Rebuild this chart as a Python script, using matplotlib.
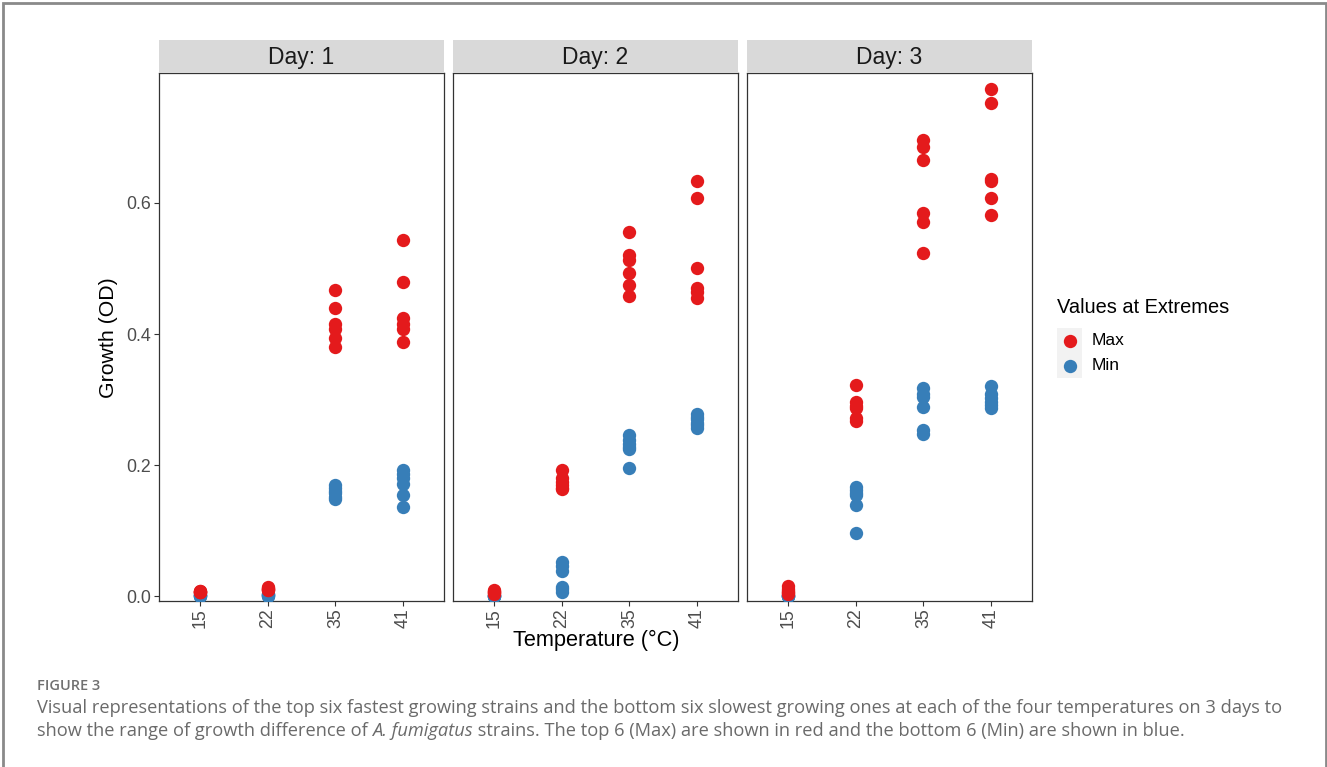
import matplotlib.pyplot as plt
from matplotlib.patches import Rectangle

temps = ["15", "22", "35", "41"]
days = ["Day: 1", "Day: 2", "Day: 3"]

# six fastest (Max) and six slowest (Min) strains, per temperature
max_day1 = [[0.009, 0.008, 0.007, 0.007, 0.006, 0.006],
            [0.014, 0.013, 0.012, 0.011, 0.010, 0.010],
            [0.467, 0.440, 0.415, 0.407, 0.394, 0.381],
            [0.543, 0.479, 0.425, 0.415, 0.408, 0.388]]
min_day1 = [[0.003, 0.002, 0.002, 0.001, 0.001, 0.000],
            [0.004, 0.003, 0.002, 0.002, 0.001, 0.001],
            [0.170, 0.166, 0.161, 0.157, 0.152, 0.148],
            [0.192, 0.187, 0.181, 0.172, 0.154, 0.137]]
max_day2 = [[0.010, 0.008, 0.007, 0.006, 0.005, 0.004],
            [0.192, 0.180, 0.175, 0.170, 0.166, 0.163],
            [0.556, 0.521, 0.513, 0.493, 0.475, 0.458],
            [0.633, 0.608, 0.500, 0.470, 0.464, 0.455]]
min_day2 = [[0.002, 0.001, 0.001, 0.000, 0.000, 0.000],
            [0.053, 0.046, 0.038, 0.015, 0.011, 0.007],
            [0.246, 0.238, 0.232, 0.228, 0.224, 0.196],
            [0.278, 0.274, 0.270, 0.265, 0.261, 0.256]]
max_day3 = [[0.016, 0.012, 0.009, 0.007, 0.005, 0.004],
            [0.322, 0.296, 0.291, 0.288, 0.272, 0.268],
            [0.696, 0.685, 0.666, 0.584, 0.571, 0.524],
            [0.774, 0.752, 0.637, 0.633, 0.607, 0.581]]
min_day3 = [[0.002, 0.001, 0.001, 0.000, 0.000, 0.000],
            [0.167, 0.162, 0.158, 0.154, 0.139, 0.096],
            [0.317, 0.309, 0.304, 0.289, 0.254, 0.247],
            [0.321, 0.309, 0.302, 0.297, 0.292, 0.287]]

max_all = [max_day1, max_day2, max_day3]
min_all = [min_day1, min_day2, min_day3]

RED = "#E41A1C"
BLUE = "#377EB8"
W, H = 1327, 767

plt.rcParams['font.family'] = ['Liberation Sans', 'DejaVu Sans']


def box(l, t, r, b):
    return [l / W, 1 - b / H, (r - l) / W, (b - t) / H]


fig = plt.figure(figsize=(W / 100, H / 100), dpi=100)

# outer frame of the figure page
fig.patches.append(Rectangle((3 / W, -0.01), (W - 4) / W, 1.0 - 3 / H + 0.01,
                             transform=fig.transFigure, fill=False,
                             edgecolor="#8a8a8a", linewidth=2))

lefts = [159, 453, 747]
for i, left in enumerate(lefts):
    right = left + 285
    ax = fig.add_axes(box(left, 73, right, 601))
    for j, t in enumerate(temps):
        ax.plot([j] * len(min_all[i][j]), min_all[i][j], "o", color=BLUE,
                markersize=9.6, markeredgewidth=0, zorder=3)
    for j, t in enumerate(temps):
        ax.plot([j] * len(max_all[i][j]), max_all[i][j], "o", color=RED,
                markersize=9.6, markeredgewidth=0, zorder=4)
    ax.set_xlim(-0.6, 3.6)
    ax.set_ylim(-0.007, 0.798)
    ax.set_xticks(range(len(temps)))
    ax.set_xticklabels(temps, rotation=90, fontsize=12.8, color="#4d4d4d")
    ax.set_yticks([0.0, 0.2, 0.4, 0.6])
    if i == 0:
        ax.set_yticklabels(["0.0", "0.2", "0.4", "0.6"], fontsize=12.8, color="#4d4d4d")
        ax.tick_params(axis="y", length=3.5, width=0.8, color="#333333", pad=2)
    else:
        ax.tick_params(axis="y", length=0, labelleft=False)
    ax.tick_params(axis="x", length=3.5, width=0.8, color="#333333", pad=2)
    for s in ax.spines.values():
        s.set_color("#333333")
        s.set_linewidth(0.9)

    strip = fig.add_axes(box(left, 40, right, 73))
    strip.set_facecolor("#D9D9D9")
    strip.set_xticks([])
    strip.set_yticks([])
    for s in strip.spines.values():
        s.set_visible(False)
    strip.text(0.5, 0.47, days[i], ha="center", va="center", fontsize=16.5,
               color="#1a1a1a", transform=strip.transAxes)

fig.text(108 / W, 1 - 338 / H, "Growth (OD)", rotation=90, ha="center",
         va="center", fontsize=15.3, color="black")
fig.text(596 / W, 1 - 640 / H, "Temperature (°C)", ha="center", va="center",
         fontsize=15.7, color="black")

# legend
fig.text(1057 / W, 1 - 308 / H, "Values at Extremes", ha="left", va="center",
         fontsize=14.4, color="black")
lg = fig.add_axes(box(1057, 328, 1082, 378))
lg.set_facecolor("#F2F2F2")
lg.set_xlim(0, 1)
lg.set_ylim(0, 2)
lg.plot([0.5], [1.5], "o", color=RED, markersize=9.6, markeredgewidth=0)
lg.plot([0.5], [0.5], "o", color=BLUE, markersize=9.6, markeredgewidth=0)
lg.set_xticks([])
lg.set_yticks([])
for s in lg.spines.values():
    s.set_visible(False)
fig.text(1092 / W, 1 - 341 / H, "Max", ha="left", va="center", fontsize=12.5)
fig.text(1092 / W, 1 - 366 / H, "Min", ha="left", va="center", fontsize=12.5)

# caption
cap_font = ['Open Sans', 'DejaVu Sans']
cap_size = 13.12
cap_color = "#6a6a6a"
fig.text(37 / W, 1 - 686 / H, "FIGURE 3", ha="left", va="center", fontsize=10.5,
         color="#707070", family=cap_font, fontweight="semibold")
fig.text(37 / W, 1 - 708 / H,
         "Visual representations of the top six fastest growing strains and the bottom six "
         "slowest growing ones at each of the four temperatures on 3 days to",
         ha="left", va="center", fontsize=cap_size, color=cap_color, family=cap_font)

# second caption line, with the species name in italics
renderer = fig.canvas.get_renderer()
pieces = [("show the range of growth difference of ", "normal"),
          ("A. fumigatus", "italic"),
          (" strains. The top 6 (Max) are shown in red and the bottom 6 (Min) are shown in blue.", "normal")]
x = 37 / W
for txt, style in pieces:
    t = fig.text(x, 1 - 731 / H, txt, ha="left", va="center", fontsize=cap_size,
                 color=cap_color, family=cap_font, fontstyle=style)
    bb = t.get_window_extent(renderer)
    x = bb.x1 / W

fig.savefig("out.png", dpi=100)
